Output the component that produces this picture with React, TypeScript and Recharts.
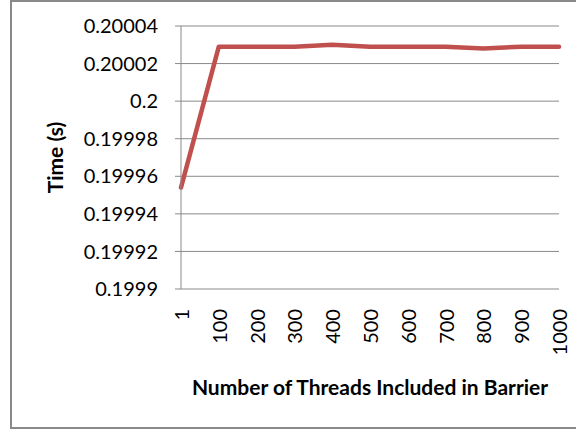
import React from 'react';
import { LineChart, Line, XAxis, YAxis, CartesianGrid } from 'recharts';

const threadCounts = ['1', '100', '200', '300', '400', '500', '600', '700', '800', '900', '1000'];
const times = [0.199954, 0.200029, 0.200029, 0.200029, 0.20003, 0.200029, 0.200029, 0.200029, 0.200028, 0.200029, 0.200029];
const yTicks = [0.1999, 0.19992, 0.19994, 0.19996, 0.19998, 0.2, 0.20002, 0.20004];

const data = threadCounts.map((threads, i) => ({ threads, time: times[i] }));
// band edges for the tick marks between categories
const edgeTicks = [...threadCounts.map((_, i) => i), threadCounts.length];

const FONT = 'Lato, "Open Sans", sans-serif';
const GRAY = '#898989';
const FS = 20;
const TITLE_FS = 21;

const ThreadTick = (props: any) => {
  const { x, y, payload } = props;
  return (
    <text
      x={x}
      y={y}
      transform={`rotate(-90, ${x}, ${y})`}
      textAnchor="end"
      dominantBaseline="central"
      fill="#000"
      fontSize={FS}
      fontFamily={FONT}
    >
      {payload.value}
    </text>
  );
};

const XTitle = (props: any) => {
  const vb = props.viewBox;
  return (
    <text x={vb.x + vb.width / 2} y={vb.y + 97} textAnchor="middle" dominantBaseline="central"
      fontWeight="bold" fontSize={TITLE_FS} fontFamily={FONT} fill="#000">
      Number of Threads Included in Barrier
    </text>
  );
};

const YTitle = (props: any) => {
  const vb = props.viewBox;
  const cx = vb.x + 54;
  const cy = vb.y + vb.height / 2;
  return (
    <text x={cx} y={cy} transform={`rotate(-90, ${cx}, ${cy})`} textAnchor="middle" dominantBaseline="central"
      fontWeight="bold" fontSize={TITLE_FS} fontFamily={FONT} fill="#000">
      Time (s)
    </text>
  );
};

export default function App() {
  return (
    <div style={{ position: 'absolute', left: 0, top: 0, width: 576, height: 429, background: '#fff', overflow: 'hidden', fontFamily: FONT }}>
      <div style={{ position: 'absolute', left: 10, top: 0, width: 600, height: 429, border: `2px solid ${GRAY}`, boxSizing: 'border-box' }} />
      <div style={{ position: 'absolute', left: 0, top: 0 }}>
        <LineChart width={576} height={429} data={data} margin={{ top: 26, right: 17, left: 0, bottom: 0 }}>
          <CartesianGrid vertical={false} stroke={GRAY} strokeWidth={1} />
          <XAxis
            xAxisId="edges"
            type="number"
            domain={[0, threadCounts.length]}
            ticks={edgeTicks}
            height={0}
            tick={false}
            tickSize={5}
            stroke={GRAY}
            axisLine={{ stroke: GRAY }}
            tickLine={{ stroke: GRAY }}
          />
          <XAxis
            dataKey="threads"
            height={140}
            tickLine={false}
            axisLine={false}
            tickSize={5}
            tickMargin={15}
            interval={0}
            tick={<ThreadTick />}
            label={<XTitle />}
          />
          <YAxis
            width={181}
            domain={[0.1999, 0.20004]}
            ticks={yTicks}
            tickFormatter={(v: number) => String(Number(v.toFixed(5)))}
            tick={{ fill: '#000', fontSize: FS, fontFamily: FONT }}
            tickSize={6}
            tickMargin={17}
            axisLine={{ stroke: GRAY }}
            tickLine={{ stroke: GRAY }}
            label={<YTitle />}
          />
          <Line
            dataKey="time"
            type="linear"
            stroke="#C0504D"
            strokeWidth={4.5}
            strokeLinecap="round"
            strokeLinejoin="round"
            dot={false}
            activeDot={false}
            isAnimationActive={false}
          />
        </LineChart>
      </div>
    </div>
  );
}
